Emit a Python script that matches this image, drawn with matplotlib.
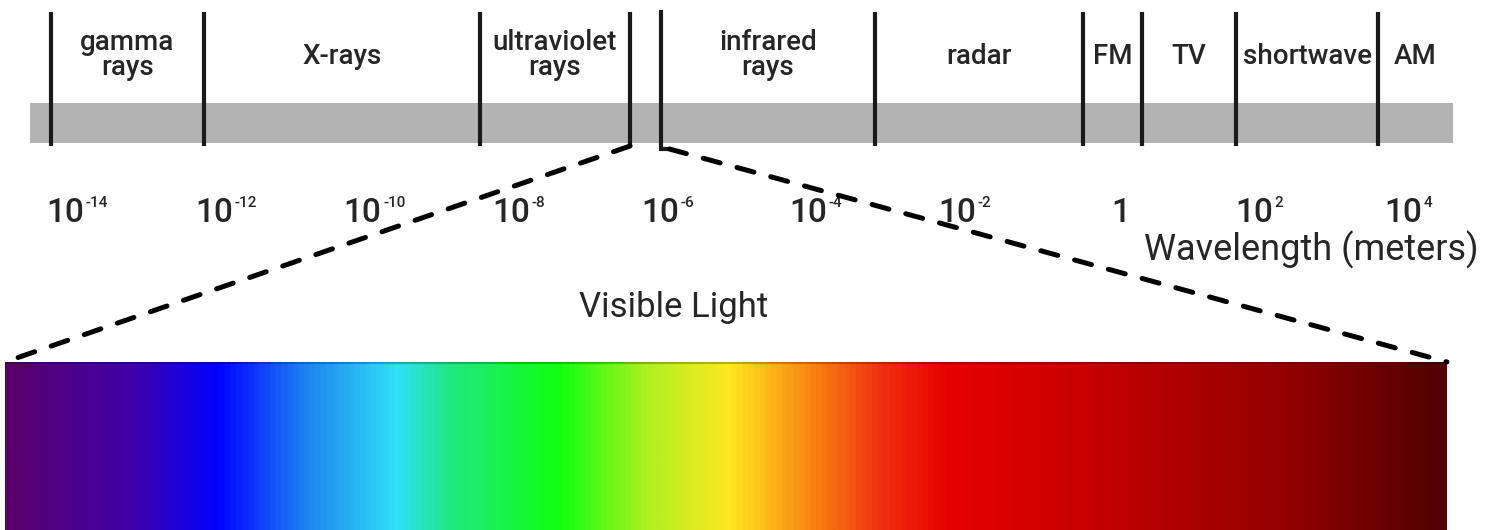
import matplotlib
matplotlib.use('Agg')
import matplotlib.pyplot as plt
import numpy as np
from matplotlib.colors import LinearSegmentedColormap
from matplotlib.patches import ConnectionPatch

# band edges along the strip, log10(wavelength in metres)
band_names = ['gamma\nrays', 'X-rays', 'ultraviolet\nrays', 'infrared\nrays',
              'radar', 'FM', 'TV', 'shortwave', 'AM']
band_left = [-14.40, -12.33, -8.62, -6.19, -3.30, -0.50, 0.29, 1.56, 3.46]
band_right = [-12.33, -8.62, -6.60, -3.30, -0.50, 0.29, 1.56, 3.46, 4.48]
strip_start = -14.67
tick_exp = [-14, -12, -10, -8, -6, -4, -2, 0, 2, 4]

# visible spectrum colour stops (nm)
vis_nm = [380, 412, 434, 456, 480, 494, 522, 545, 566, 588, 605, 622, 661, 712, 750]
vis_col = ['#5a006a', '#4000a8', '#0000ff', '#1e7ff0', '#30e0f8', '#20e880',
           '#10ff10', '#b0f020', '#ffe820', '#f88010', '#f03010', '#e80000',
           '#c40000', '#900000', '#500000']

plt.rcParams['font.family'] = ['Roboto', 'DejaVu Sans']
txt = '#262626'

fig = plt.figure(figsize=(14.95, 5.3), dpi=100)
ax = fig.add_axes([0, 0, 1, 1])
ax.set_xlim(-15.08, 5.04)
ax.set_ylim(530, 0)
ax.axis('off')

# grey strip
ax.fill_between([strip_start, band_right[-1]], 103, 143, color='#b3b3b3', lw=0)

# separators
edges = sorted(set(band_left[:1] + band_right[:3] + band_left[4:]))
for e in edges:
    ax.plot([e, e], [12, 146], color='#1a1a1a', lw=3, solid_capstyle='butt')
ax.plot([band_left[3], band_left[3], band_left[3] + 0.12], [12, 149, 149],
        color='#1a1a1a', lw=3, solid_joinstyle='miter')

for name, l, r in zip(band_names, band_left, band_right):
    y = 55 if '\n' in name else 57
    ax.text((l + r) / 2, y, name, ha='center', va='center', fontsize=20,
            color=txt, linespacing=0.95, fontweight='medium')

for e in tick_exp:
    if e == 0:
        ax.text(e, 222, '1', ha='center', va='baseline', fontsize=24,
                color=txt, fontweight='medium')
        continue
    ax.annotate('10', xy=(e, 222), xytext=(3, 0), textcoords='offset points',
                ha='right', va='baseline', fontsize=24, color=txt, fontweight='medium')
    ax.annotate('%d' % e, xy=(e, 222), xytext=(4, 19), textcoords='offset points',
                ha='left', va='top', fontsize=11, color=txt, fontweight='medium')

ax.text(4.82, 250, 'Wavelength (meters)', ha='right', va='center', fontsize=26, color=txt)
ax.text(-6.02, 308, 'Visible Light', ha='center', va='center', fontsize=25, color=txt)

# visible spectrum
sx = fig.add_axes([5 / 1495, 0, 1442 / 1495, 168 / 530])
pos = [(v - vis_nm[0]) / (vis_nm[-1] - vis_nm[0]) for v in vis_nm]
cmap = LinearSegmentedColormap.from_list('vis', list(zip(pos, vis_col)))
grad = np.linspace(vis_nm[0], vis_nm[-1], 800).reshape(1, -1)
sx.imshow(grad, cmap=cmap, aspect='auto', extent=(vis_nm[0], vis_nm[-1], 0, 1),
          vmin=vis_nm[0], vmax=vis_nm[-1])
sx.plot([vis_nm[0], vis_nm[-1]], [0.995, 0.995], color='black', lw=1.5, alpha=0.25)
sx.set_xlim(vis_nm[0], vis_nm[-1])
sx.set_ylim(0, 1)
sx.axis('off')

for xa, ya, xb in [(band_right[2], 146, vis_nm[0]), (band_left[3] + 0.12, 149, vis_nm[-1])]:
    con = ConnectionPatch(xyA=(xa, ya), coordsA=ax.transData,
                          xyB=(xb, 1), coordsB=sx.transData,
                          color='black', lw=3.6, linestyle=(0, (3.5, 3.5)))
    fig.add_artist(con)

fig.savefig('out.png', dpi=100)
